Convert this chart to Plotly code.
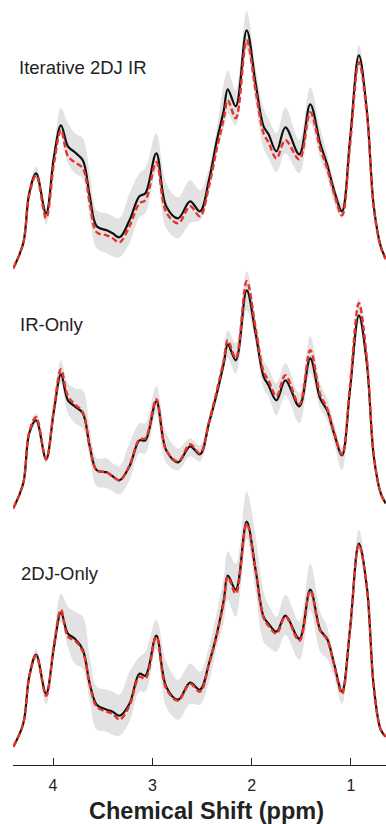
import plotly.graph_objects as go

# Chemical shift grid (ppm)
ppm = [4.40, 4.30, 4.24, 4.17, 4.07, 3.99, 3.92, 3.85, 3.78, 3.70, 3.63, 3.56, 3.46, 3.40, 3.33,
       3.23, 3.13, 3.07, 2.96, 2.86, 2.74, 2.62, 2.52, 2.43, 2.35, 2.28, 2.24, 2.16, 2.05, 1.96,
       1.88, 1.83, 1.75, 1.66, 1.52, 1.41, 1.31, 1.24, 1.17, 1.09, 1.01, 0.92, 0.84, 0.77, 0.70, 0.65]

panel_names = ["Iterative 2DJ IR", "IR-Only", "2DJ-Only"]

# Iterative 2DJ IR
p1_black = [0, 25, 75, 95, 55, 112, 143, 122, 116, 108, 72, 42, 38, 35, 31, 48, 72, 75, 115, 62, 50, 67, 57, 88, 128,
            158, 179, 162, 238, 185, 142, 134, 117, 141, 114, 164, 125, 104, 78, 57, 128, 213, 158, 62, 22, 10]
p1_red = [0, 25, 73, 93, 50, 105, 138, 112, 106, 100, 65, 36, 33, 30, 26, 42, 65, 68, 106, 56, 45, 62, 52, 82, 120,
          150, 168, 150, 228, 178, 135, 126, 110, 128, 109, 156, 120, 100, 75, 53, 122, 206, 155, 60, 21, 9]
p1_lo = [0, 23, 70, 91, 44, 100, 135, 105, 95, 90, 50, 20, 15, 12, 11, 25, 51, 55, 98, 40, 30, 45, 48, 75, 115,
         140, 155, 143, 218, 165, 120, 110, 96, 115, 95, 145, 110, 92, 65, 50, 118, 201, 150, 58, 20, 9]
p1_hi = [2, 28, 80, 102, 60, 120, 160, 145, 135, 130, 95, 58, 55, 52, 50, 75, 95, 100, 135, 85, 71, 88, 78, 100, 140,
         185, 198, 178, 257, 200, 160, 150, 135, 161, 128, 181, 140, 115, 85, 65, 135, 223, 165, 68, 24, 11]

# IR-Only
p2_black = [0, 25, 75, 88, 49, 98, 134, 108, 102, 95, 62, 38, 36, 32, 28, 42, 68, 68, 107, 58, 46, 62, 54, 85, 115,
            145, 164, 148, 218, 175, 132, 123, 108, 128, 102, 150, 110, 98, 75, 53, 118, 193, 145, 52, 15, 5]
p2_red = [0, 25, 76, 91, 49, 100, 139, 112, 104, 96, 62, 38, 36, 32, 28, 43, 69, 70, 109, 58, 47, 64, 55, 86, 118,
          148, 168, 150, 227, 180, 137, 128, 112, 133, 104, 158, 114, 100, 76, 54, 122, 205, 150, 53, 15, 5]
p2_lo = [0, 23, 70, 85, 45, 92, 125, 95, 85, 80, 50, 22, 20, 17, 14, 28, 55, 55, 95, 45, 38, 52, 47, 78, 108,
         138, 150, 135, 198, 165, 120, 112, 93, 113, 85, 135, 100, 88, 65, 38, 110, 185, 140, 50, 14, 4]
p2_hi = [2, 28, 80, 95, 55, 108, 148, 125, 120, 118, 80, 50, 50, 45, 42, 65, 85, 85, 122, 75, 60, 70, 63, 92, 122,
         158, 178, 165, 237, 190, 148, 140, 125, 145, 115, 172, 125, 110, 85, 60, 125, 210, 155, 56, 17, 6]

# 2DJ-Only
p3_black = [0, 23, 70, 92, 53, 100, 134, 113, 108, 97, 63, 42, 37, 35, 31, 43, 73, 71, 111, 60, 47, 64, 57, 83, 113,
            147, 171, 157, 225, 177, 130, 123, 115, 131, 108, 157, 117, 108, 83, 55, 117, 203, 160, 60, 17, 10]
p3_red = [0, 23, 70, 91, 51, 102, 137, 110, 106, 95, 62, 40, 35, 33, 27, 41, 70, 68, 110, 58, 46, 63, 55, 82, 112,
          145, 170, 153, 223, 176, 129, 121, 113, 130, 106, 156, 116, 107, 82, 53, 116, 202, 159, 59, 17, 10]
p3_lo = [0, 21, 65, 87, 42, 92, 125, 100, 83, 78, 45, 17, 15, 12, 11, 25, 55, 55, 98, 40, 27, 43, 42, 65, 100,
         125, 147, 130, 208, 155, 105, 100, 95, 112, 87, 137, 95, 88, 70, 43, 110, 195, 153, 56, 16, 9]
p3_hi = [2, 26, 76, 98, 58, 110, 153, 140, 135, 130, 90, 60, 57, 55, 52, 75, 90, 95, 127, 85, 67, 83, 75, 100, 135,
         170, 195, 183, 255, 210, 155, 142, 130, 152, 125, 183, 135, 120, 90, 62, 125, 217, 168, 65, 19, 11]

x_ticks = [4, 3, 2, 1]
x_tick_labels = ["4", "3", "2", "1"]

panels = [
    (p1_black, p1_red, p1_lo, p1_hi),
    (p2_black, p2_red, p2_lo, p2_hi),
    (p3_black, p3_red, p3_lo, p3_hi),
]

# page layout (body margin is removed by a post script, so page px == figure px)
W, H = 386, 824
plot_left, plot_right = 13, 386
plot_top, axis_y = 5, 765
ML, MR, MT, MB = plot_left, W - plot_right, plot_top, H - axis_y
plot_w = plot_right - plot_left
plot_h = axis_y - plot_top
baselines = [268.3, 508.3, 746.7]

fig = go.Figure()
axis_ids = ["y", "y2", "y3"]
for k, (blk, red, lo, hi) in enumerate(panels):
    ya = axis_ids[k]
    fig.add_trace(go.Scatter(x=ppm, y=lo, mode="lines", line=dict(width=0, shape="spline"),
                             yaxis=ya, hoverinfo="skip", showlegend=False))
    fig.add_trace(go.Scatter(x=ppm, y=hi, mode="lines", line=dict(width=0, shape="spline"),
                             fill="tonexty", fillcolor="rgba(226,226,226,1)",
                             yaxis=ya, hoverinfo="skip", showlegend=False))
    fig.add_trace(go.Scatter(x=ppm, y=blk, mode="lines",
                             line=dict(color="#111111", width=2.2, shape="spline"),
                             yaxis=ya, showlegend=False))
    fig.add_trace(go.Scatter(x=ppm, y=red, mode="lines",
                             line=dict(color="#e8332a", width=2.4, dash="6px,3px", shape="spline"),
                             yaxis=ya, showlegend=False))

layout_axes = {}
for k, b in enumerate(baselines):
    rng = [-(axis_y - b), b - plot_top]
    key = "yaxis" if k == 0 else f"yaxis{k+1}"
    ax = dict(range=rng, visible=False, showgrid=False, zeroline=False, fixedrange=True)
    if k > 0:
        ax["overlaying"] = "y"
    layout_axes[key] = ax

fig.update_layout(
    width=W, height=H,
    margin=dict(l=ML, r=MR, t=MT, b=MB, pad=0),
    paper_bgcolor="white", plot_bgcolor="white",
    font=dict(family="Liberation Sans, Arial, sans-serif", color="#222222"),
    xaxis=dict(range=[4.403, 0.647], showgrid=False, zeroline=False,
               showline=True, linecolor="#222222", linewidth=1.2,
               ticks="inside", ticklen=7, tickwidth=1.2, tickcolor="#222222",
               tickvals=x_ticks, ticktext=x_tick_labels,
               tickfont=dict(size=16, color="#222222"), ticklabelstandoff=6),
    **layout_axes,
)


def px_to_paper(px, py):
    return (px - plot_left) / plot_w, (axis_y - py) / plot_h


label_px = [(17, 68), (18, 324), (19, 573)]
for name, (px, py) in zip(panel_names, label_px):
    xp, yp = px_to_paper(px, py)
    fig.add_annotation(text=name, xref="paper", yref="paper", x=xp, y=yp,
                       xanchor="left", yanchor="middle", showarrow=False,
                       font=dict(size=18.5, color="#222222"))

xp, yp = px_to_paper(206.5, 811)
fig.add_annotation(text="<b>Chemical Shift (ppm)</b>", xref="paper", yref="paper", x=xp, y=yp,
                   xanchor="center", yanchor="middle", showarrow=False,
                   font=dict(size=23.5, color="#222222"))

fig.write_html(
    "out.html",
    config={"displayModeBar": False},
    post_script="document.body.style.margin='0';document.body.style.overflow='hidden';"
                "document.documentElement.style.overflow='hidden';",
)
